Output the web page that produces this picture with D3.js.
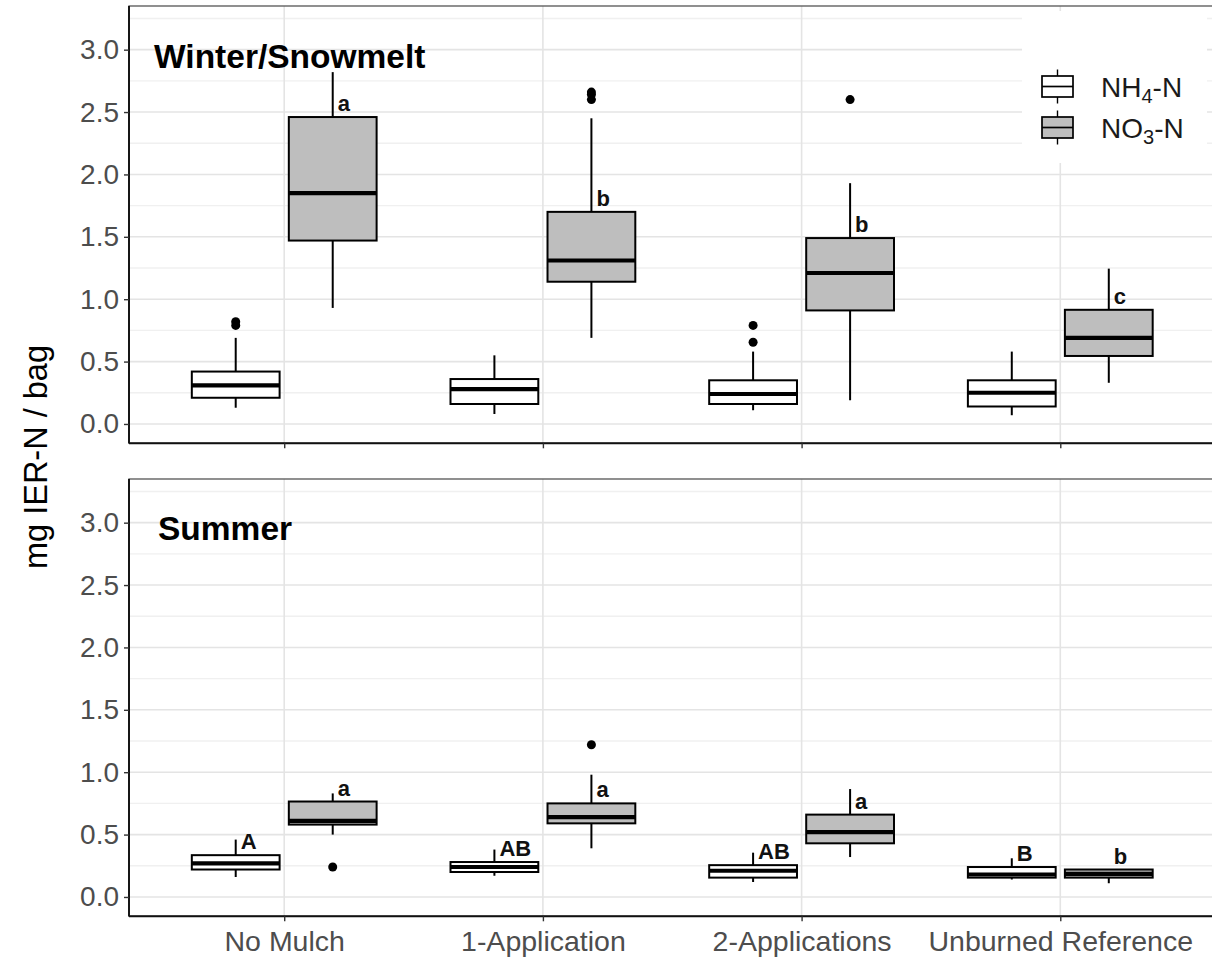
<!DOCTYPE html>
<html>
<head>
<meta charset="utf-8">
<script src="https://cdn.jsdelivr.net/npm/d3@7"></script>
<style>
  html, body { margin: 0; padding: 0; background: #fff; }
  svg { display: block; font-family: "Liberation Sans", Arial, sans-serif; }
</style>
</head>
<body>
<svg id="chart" width="1212" height="959"></svg>
<script>
// ---------------- data ----------------
const categories = ["No Mulch", "1-Application", "2-Applications", "Unburned Reference"];
const seasons = ["Winter/Snowmelt", "Summer"];
const species = ["NH4-N", "NO3-N"];
const yTicks = [0.0, 0.5, 1.0, 1.5, 2.0, 2.5, 3.0];
const yMinorTicks = [0.25, 0.75, 1.25, 1.75, 2.25, 2.75, 3.25];

// box stats per category: [lower whisker, q1, median, q3, upper whisker]
const winterNH4 = [[0.13, 0.21, 0.31, 0.42, 0.69], [0.08, 0.16, 0.28, 0.36, 0.55], [0.11, 0.16, 0.24, 0.35, 0.58], [0.07, 0.14, 0.25, 0.35, 0.58]];
const winterNO3 = [[0.93, 1.47, 1.85, 2.46, 2.82], [0.69, 1.14, 1.31, 1.70, 2.45], [0.19, 0.91, 1.21, 1.49, 1.93], [0.33, 0.545, 0.69, 0.915, 1.245]];
const summerNH4 = [[0.16, 0.22, 0.27, 0.335, 0.46], [0.17, 0.20, 0.24, 0.28, 0.38], [0.12, 0.155, 0.21, 0.255, 0.355], [0.14, 0.155, 0.18, 0.24, 0.31]];
const summerNO3 = [[0.50, 0.58, 0.61, 0.765, 0.83], [0.39, 0.59, 0.64, 0.75, 0.98], [0.32, 0.43, 0.52, 0.66, 0.865], [0.11, 0.155, 0.185, 0.22, 0.22]];

const winterNH4Out = [[0.82, 0.79], [], [0.79, 0.655], []];
const winterNO3Out = [[], [2.66, 2.64, 2.60], [2.60], []];
const summerNH4Out = [[], [], [], []];
const summerNO3Out = [[0.24], [1.22], [], []];

const winterNH4Letters = ["", "", "", ""];
const winterNO3Letters = ["a", "b", "b", "c"];
const summerNH4Letters = ["A", "AB", "AB", "B"];
const summerNO3Letters = ["a", "a", "a", "b"];

const speciesFill = ["#ffffff", "#bebebe"];
const yTitle = "mg IER-N / bag";

// ---------------- layout ----------------
const svg = d3.select("#chart");
const W = 1212, H = 959;
const panelLeft = 129, panelRight = 1215.5;
const panels = [
  { season: seasons[0], top: 6, bottom: 443.3, stats: [winterNH4, winterNO3], outs: [winterNH4Out, winterNO3Out], letters: [winterNH4Letters, winterNO3Letters], legend: true },
  { season: seasons[1], top: 479, bottom: 916.3, stats: [summerNH4, summerNO3], outs: [summerNH4Out, summerNO3Out], letters: [summerNH4Letters, summerNO3Letters], legend: false }
];

const x = d3.scalePoint().domain(categories).range([panelLeft, panelRight]).padding(0.6);
const dodge = d3.scaleBand().domain(species).range([-x.step() * 0.375, x.step() * 0.375]);
const boxW = dodge.bandwidth() * 0.905;
const fmt = d3.format(".1f");
const font = '"Liberation Sans", Arial, sans-serif';

svg.append("rect").attr("width", W).attr("height", H).attr("fill", "#fff");

panels.forEach(p => {
  const y = d3.scaleLinear().domain([-0.155, 3.35]).range([p.bottom, p.top]);
  const g = svg.append("g");

  g.append("rect").attr("x", panelLeft).attr("y", p.top).attr("width", panelRight - panelLeft).attr("height", p.bottom - p.top).attr("fill", "#fff");

  // minor grid
  g.selectAll(".minor").data(yMinorTicks).join("line")
    .attr("x1", panelLeft).attr("x2", panelRight)
    .attr("y1", d => y(d)).attr("y2", d => y(d))
    .attr("stroke", "#f0f0f0").attr("stroke-width", 1.3);
  // major grid
  g.selectAll(".major").data(yTicks).join("line")
    .attr("x1", panelLeft).attr("x2", panelRight)
    .attr("y1", d => y(d)).attr("y2", d => y(d))
    .attr("stroke", "#e4e4e4").attr("stroke-width", 1.6);
  g.selectAll(".vmajor").data(categories).join("line")
    .attr("x1", d => x(d)).attr("x2", d => x(d))
    .attr("y1", p.top).attr("y2", p.bottom)
    .attr("stroke", "#e4e4e4").attr("stroke-width", 1.6);

  if (p.legend) {
    const lg = g.append("g");
    lg.append("rect").attr("x", 1022).attr("y", 11).attr("width", 185).attr("height", 152).attr("fill", "#fff");
    species.forEach((s, i) => {
      const cy = 86.5 + i * 41;
      const kx = 1057.5;
      lg.append("line").attr("x1", kx).attr("x2", kx).attr("y1", cy - 17).attr("y2", cy + 17).attr("stroke", "#000").attr("stroke-width", 1.4);
      lg.append("rect").attr("x", kx - 15.5).attr("y", cy - 10.5).attr("width", 31).attr("height", 21)
        .attr("fill", speciesFill[i]).attr("stroke", "#000").attr("stroke-width", 1.7);
      lg.append("line").attr("x1", kx - 15.5).attr("x2", kx + 15.5).attr("y1", cy).attr("y2", cy).attr("stroke", "#000").attr("stroke-width", 1.7);
      const parts = s.match(/^([A-Z]+)(\d)(.*)$/);
      const t = lg.append("text").attr("x", 1101).attr("y", cy + 10.5)
        .attr("font-size", 28).attr("fill", "#1a1a1a").attr("font-family", font);
      t.append("tspan").text(parts[1]);
      t.append("tspan").text(parts[2]).attr("font-size", 20).attr("dy", 6);
      t.append("tspan").text(parts[3]).attr("dy", -6);
    });
  }

  // boxes
  species.forEach((s, si) => {
    categories.forEach((c, ci) => {
      const st = p.stats[si][ci];
      const cx = x(c) + dodge(s) + dodge.bandwidth() / 2;
      const bg = g.append("g");
      bg.append("line").attr("x1", cx).attr("x2", cx).attr("y1", y(st[4])).attr("y2", y(st[3])).attr("stroke", "#000").attr("stroke-width", 2);
      bg.append("line").attr("x1", cx).attr("x2", cx).attr("y1", y(st[1])).attr("y2", y(st[0])).attr("stroke", "#000").attr("stroke-width", 2);
      bg.append("rect").attr("x", cx - boxW / 2).attr("y", y(st[3])).attr("width", boxW).attr("height", y(st[1]) - y(st[3]))
        .attr("fill", speciesFill[si]).attr("stroke", "#000").attr("stroke-width", 2);
      bg.append("line").attr("x1", cx - boxW / 2).attr("x2", cx + boxW / 2).attr("y1", y(st[2])).attr("y2", y(st[2]))
        .attr("stroke", "#000").attr("stroke-width", 4.2);
      bg.selectAll("circle").data(p.outs[si][ci]).join("circle")
        .attr("cx", cx).attr("cy", d => y(d)).attr("r", 4.5).attr("fill", "#000");
      const lab = p.letters[si][ci];
      if (lab) {
        bg.append("text").attr("x", cx + 5).attr("y", y(st[3]) - 6)
          .attr("font-size", 22).attr("font-weight", "bold").attr("fill", "#111").attr("font-family", font).text(lab);
      }
    });
  });

  // season title
  g.append("text").attr("x", p.legend ? 154 : 158).attr("y", p.top + (p.legend ? 62 : 61))
    .attr("font-size", 33.5).attr("font-weight", "bold").attr("fill", "#000").attr("font-family", font).text(p.season);

  // border & axis lines
  g.append("rect").attr("x", panelLeft).attr("y", p.top).attr("width", panelRight - panelLeft).attr("height", p.bottom - p.top)
    .attr("fill", "none").attr("stroke", "#555").attr("stroke-width", 1.3);
  g.append("line").attr("x1", panelLeft).attr("x2", panelRight).attr("y1", p.bottom).attr("y2", p.bottom).attr("stroke", "#111").attr("stroke-width", 1.9);
  g.append("line").attr("x1", panelLeft).attr("x2", panelLeft).attr("y1", p.top).attr("y2", p.bottom).attr("stroke", "#111").attr("stroke-width", 1.9);

  // y axis
  const yAxis = d3.axisLeft(y).tickValues(yTicks).tickFormat(fmt).tickSize(5).tickPadding(5);
  const ya = svg.append("g").attr("transform", `translate(${panelLeft},0)`).call(yAxis);
  ya.select(".domain").remove();
  ya.selectAll(".tick line").attr("stroke", "#333").attr("stroke-width", 1.4);
  ya.selectAll(".tick text").attr("font-size", 28).attr("fill", "#4d4d4d").attr("font-family", font);

  // x axis
  const xAxis = d3.axisBottom(x).tickSize(5).tickPadding(10);
  const xa = svg.append("g").attr("transform", `translate(0,${p.bottom})`).call(xAxis);
  xa.select(".domain").remove();
  xa.selectAll(".tick line").attr("stroke", "#333").attr("stroke-width", 1.4);
  if (p.legend) {
    xa.selectAll(".tick text").remove();
  } else {
    xa.selectAll(".tick text").attr("font-size", 28.5).attr("fill", "#4d4d4d").attr("font-family", font).attr("dy", "0.7em");
  }
});

// y axis title
svg.append("text")
  .attr("transform", "translate(36,457) rotate(-90)")
  .attr("text-anchor", "middle").attr("dominant-baseline", "central")
  .attr("font-size", 32.5).attr("fill", "#000").attr("font-family", font)
  .text(yTitle);
</script>
</body>
</html>
